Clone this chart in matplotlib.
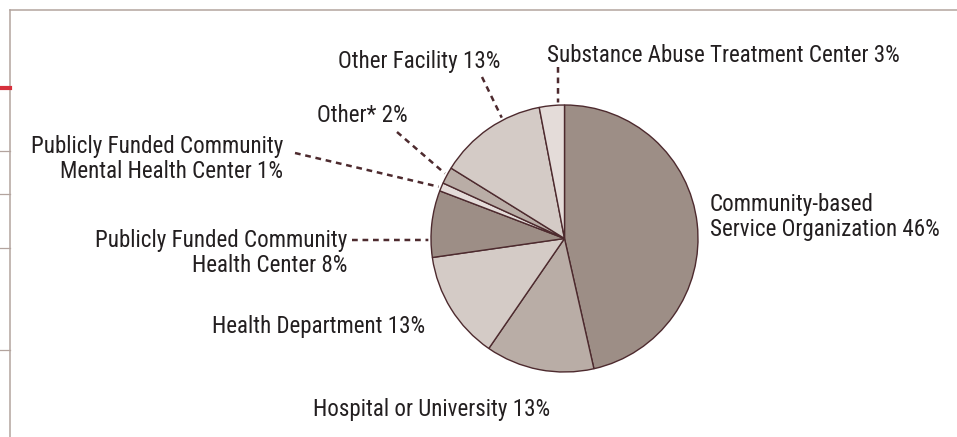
import matplotlib.pyplot as plt
from matplotlib import font_manager
import numpy as np

W, H = 957, 437

# data, clockwise from 12 o'clock
categories = [
    "Community-based\nService Organization",
    "Hospital or University",
    "Health Department",
    "Publicly Funded Community\nHealth Center",
    "Publicly Funded Community\nMental Health Center",
    "Other*",
    "Other Facility",
    "Substance Abuse Treatment Center",
]
shares = [46, 13, 13, 8, 1, 2, 13, 3]
slice_colors = ["#9d8e86", "#b9ada6", "#d4cbc6", "#9d8e86",
                "#e4dcd9", "#b9ada6", "#d4cbc6", "#e4dcd9"]

TEXT = "#231f20"
EDGE = "#4d2a2e"
FRAME = "#b3a49e"
LINE_GAP = 25

CX, CY, R = 564.5, 238.5, 133.5

# label layout in pixels: x, first baseline, align, leader start, wedge fraction
layout = [
    (710, 211, "left", None, None),
    (432, 416, "center", None, None),
    (212, 333, "left", None, None),
    (347, 247, "right", (352, 240), 0.74),
    (283, 153, "right", (295, 153), 0.6),
    (408, 122, "right", (397, 132), 0.45),
    (500, 68, "right", (482, 77), 0.35),
    (547, 62, "left", (558, 67), 0.25),
]


def pick_family(candidates):
    have = {f.name for f in font_manager.fontManager.ttflist}
    for name in candidates:
        if name in have:
            return name
    return "DejaVu Sans"


def fy(y):
    return H - y


family = pick_family(["Nimbus Sans Narrow", "Liberation Sans Narrow", "Roboto Condensed",
                      "Archivo Narrow", "Asap Condensed", "Liberation Sans"])
plt.rcParams["font.family"] = [family, "DejaVu Sans"]

fig = plt.figure(figsize=(W / 100, H / 100), dpi=100)
ax = fig.add_axes([0, 0, 1, 1])

# size the font so that one reference line has the same width as in the source
probe = fig.text(0, 0, "Publicly Funded Community", fontsize=10)
probe_w = probe.get_window_extent(fig.canvas.get_renderer()).width
probe.remove()
FS = 10 * 252 / probe_w

wedges, _ = ax.pie(
    shares,
    colors=slice_colors,
    startangle=90,
    counterclock=False,
    center=(CX, fy(CY)),
    radius=R,
    wedgeprops=dict(edgecolor=EDGE, linewidth=1.0),
)

for name, share, wedge, spec in zip(categories, shares, wedges, layout):
    x, y0, ha, start, frac = spec
    lines = f"{name} {share}%".split("\n")
    for i, line in enumerate(lines):
        ax.text(x, fy(y0 + i * LINE_GAP), line, ha=ha, va="baseline",
                fontsize=FS, color=TEXT)
    if start is not None:
        theta = np.radians(wedge.theta1 + frac * (wedge.theta2 - wedge.theta1))
        ex = CX + 1.02 * R * np.cos(theta)
        ey = fy(CY) + 1.02 * R * np.sin(theta)
        ax.plot([start[0], ex], [fy(start[1]), ey], color=EDGE, lw=1.8,
                linestyle=(0, (2.3, 1.9)), solid_capstyle="butt")

# frame and the cut-off table rules on the left
ax.plot([10, 10], [fy(10), 0], color=FRAME, lw=1.1)
ax.plot([10, W], [fy(10), fy(10)], color=FRAME, lw=1.1)
ax.plot([0, 10], [fy(88), fy(88)], color="#d6303c", lw=3.0)
for y in [151, 194, 248, 350]:
    ax.plot([0, 10], [fy(y), fy(y)], color=FRAME, lw=0.9)

ax.set_xlim(0, W)
ax.set_ylim(0, H)
ax.set_aspect("equal")
ax.axis("off")

fig.savefig("out.png", dpi=100)
